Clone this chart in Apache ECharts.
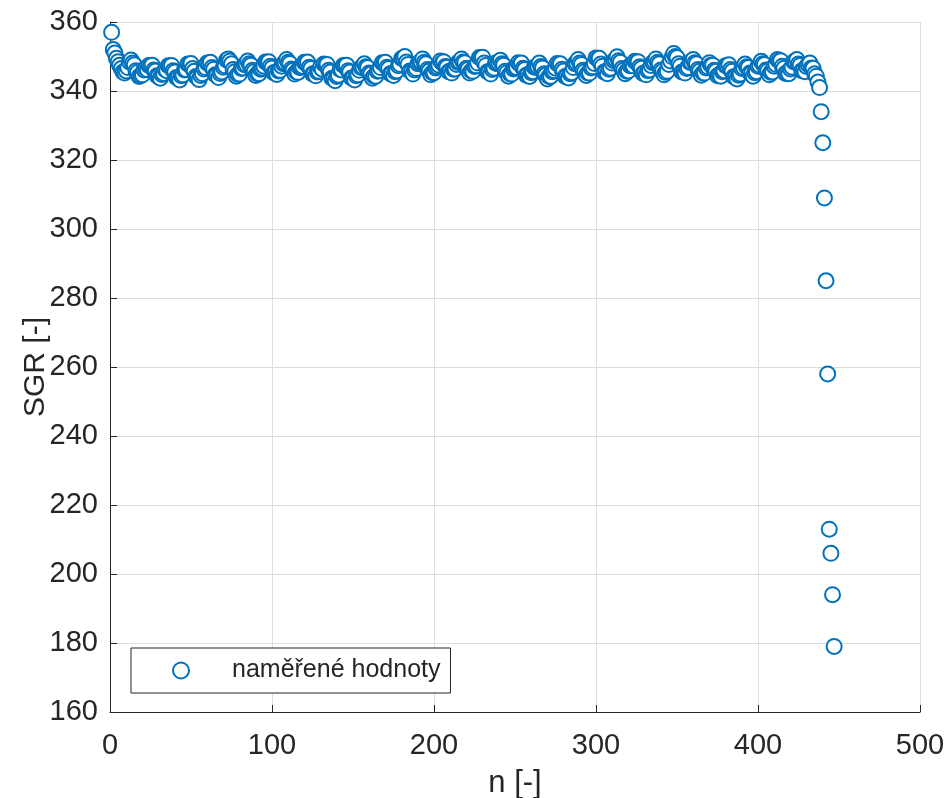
<!DOCTYPE html>
<html>
<head>
<meta charset="utf-8">
<script src="https://cdn.jsdelivr.net/npm/echarts@6/dist/echarts.min.js"></script>
<style>html,body{margin:0;padding:0;background:#fff}#c{width:949px;height:798px}</style>
</head>
<body>
<div id="c"></div>
<script>
// Measured SGR values, n = 1..447
const sgrStart = [357, 352, 351, 349.5, 348.5, 347.5, 346.5, 345.5, 345.2, 345.8];
const sgrPlateau = [
 346.8, 348.4, 349.0, 348.1, 347.6, 345.9, 345.4, 344.2, 344.5, 344.7, 346.1, 346.5,
 346.2, 347.4, 347.3, 347.5, 346.1, 345.8, 344.4, 344.3, 343.7, 344.8, 345.1, 346.2,
 345.9, 347.3, 347.2, 347.4, 345.9, 345.5, 343.9, 343.8, 343.2, 344.4, 344.7, 346.1,
 346.2, 347.8, 347.7, 348.0, 346.5, 345.7, 344.2, 344.0, 343.3, 344.5, 345.0, 346.4,
 346.8, 348.1, 348.0, 348.3, 346.8, 346.3, 344.7, 344.6, 343.9, 345.1, 345.5, 346.9,
 347.3, 349.0, 349.3, 348.7, 347.9, 346.2, 345.6, 344.3, 344.8, 344.9, 346.5, 346.7,
 347.6, 347.8, 348.7, 347.9, 347.5, 346.0, 345.6, 344.5, 345.0, 345.0, 346.3, 346.6,
 347.2, 348.4, 348.3, 348.5, 347.2, 346.7, 345.3, 345.4, 344.8, 345.8, 346.0, 347.2,
 347.9, 348.2, 349.1, 348.3, 348.0, 346.4, 346.0, 344.9, 345.5, 345.4, 346.8, 346.9,
 347.1, 348.3, 348.1, 348.4, 346.9, 346.5, 344.9, 345.1, 344.4, 345.5, 345.7, 346.9,
 346.3, 347.8, 347.6, 347.7, 346.0, 345.5, 343.7, 343.6, 343.0, 344.2, 344.6, 346.2,
 346.1, 347.4, 347.3, 347.5, 345.9, 345.5, 343.8, 343.8, 343.2, 344.4, 344.7, 346.0,
 346.8, 347.0, 347.9, 347.0, 346.8, 345.2, 344.9, 343.7, 344.3, 344.3, 345.7, 345.9,
 346.8, 348.2, 348.0, 348.3, 346.9, 346.5, 345.0, 345.1, 344.5, 345.6, 345.8, 347.3,
 347.7, 349.4, 349.5, 350.0, 348.4, 347.7, 345.8, 345.6, 344.9, 346.1, 346.5, 347.9,
 348.3, 348.5, 349.3, 348.3, 347.9, 346.2, 345.8, 344.7, 345.3, 345.3, 346.7, 347.0,
 347.5, 348.7, 348.2, 348.5, 347.1, 346.9, 345.6, 345.8, 345.2, 346.3, 346.4, 347.7,
 348.3, 348.4, 349.3, 348.4, 348.2, 346.6, 346.3, 345.2, 345.8, 345.7, 347.1, 347.3,
 348.1, 349.7, 349.5, 349.8, 348.1, 347.4, 345.6, 345.5, 344.9, 346.2, 346.6, 348.1,
 347.9, 348.1, 348.9, 347.9, 347.5, 345.7, 345.3, 344.3, 344.9, 344.9, 346.4, 346.7,
 346.8, 348.2, 347.8, 348.1, 346.6, 346.2, 344.6, 344.8, 344.2, 345.3, 345.6, 346.9,
 346.9, 347.2, 348.1, 347.1, 346.7, 345.0, 344.6, 343.5, 344.2, 344.2, 345.6, 345.9,
 346.6, 348.0, 347.7, 347.9, 346.3, 345.8, 344.2, 344.3, 343.8, 345.0, 345.3, 346.8,
 347.9, 348.2, 349.1, 348.1, 347.7, 346.0, 345.6, 344.5, 345.2, 345.2, 346.7, 347.0,
 348.0, 349.6, 349.3, 349.5, 347.8, 347.2, 345.5, 345.6, 345.0, 346.3, 346.6, 348.1,
 348.8, 349.1, 349.9, 348.8, 348.3, 346.5, 346.0, 345.0, 345.7, 345.8, 347.3, 347.5,
 347.3, 348.6, 348.3, 348.5, 347.0, 346.6, 345.1, 345.3, 344.7, 345.9, 346.1, 347.4,
 348.2, 348.4, 349.3, 348.3, 347.9, 346.1, 345.7, 344.7, 345.4, 345.7, 347.7, 348.7,
 349.9, 350.9, 350.0, 349.7, 347.9, 347.2, 345.5, 345.6, 345.2, 346.5, 346.8, 348.3,
 348.3, 349.1, 348.2, 347.9, 346.2, 345.8, 344.6, 345.2, 345.2, 346.7, 347.0, 348.2,
 347.5, 347.5, 346.0, 345.7, 344.4, 344.7, 344.3, 345.6, 345.9, 347.3, 347.2, 347.6,
 346.2, 345.7, 344.1, 344.1, 343.5, 344.6, 344.9, 346.5, 346.8, 347.8, 347.0, 346.8,
 345.2, 345.1, 344.3, 345.3, 345.6, 347.2, 347.5, 348.6, 347.9, 347.7, 346.1, 345.8,
 344.7, 345.4, 345.5, 347.2, 347.7, 349.1, 348.7, 348.8, 347.2, 346.6, 345.1, 345.3,
 345.0, 346.4, 346.9, 348.5, 348.5, 349.1, 347.8, 347.4, 345.9, 346.0, 345.6, 347.1
];
const sgrEnd = [347.7, 348.1, 346.7, 346.6, 345.0, 344.3, 342.6, 341, 334, 325, 309, 285, 258, 213, 206, 194, 179];
const sgr = sgrStart.concat(sgrPlateau, sgrEnd);
const points = sgr.map((v, i) => [i + 1, v]);

const xTicks = [0, 100, 200, 300, 400, 500];
const yTicks = [160, 180, 200, 220, 240, 260, 280, 300, 320, 340, 360];
const seriesName = 'naměřené hodnoty';

const chart = echarts.init(document.getElementById('c'), null, {renderer: 'canvas'});
const FONT = 'Liberation Sans, Arial, Helvetica, sans-serif';
const TXT = '#262626';
const BLUE = '#0072BD';
chart.setOption({
  animation: false,
  backgroundColor: '#fff',
  grid: {left: 110, right: 29, top: 22, bottom: 86, containLabel: false, outerBoundsMode: 'none'},
  xAxis: {
    type: 'value', min: xTicks[0], max: xTicks[xTicks.length - 1], interval: 100,
    name: 'n [-]', nameLocation: 'middle', nameGap: 56, nameMoveOverlap: false,
    nameTextStyle: {fontFamily: FONT, fontSize: 31, color: TXT},
    axisLine: {show: true, onZero: false, lineStyle: {color: TXT, width: 1}},
    axisTick: {show: true, inside: true, length: 7, lineStyle: {color: TXT}},
    axisLabel: {fontFamily: FONT, fontSize: 29, color: TXT, margin: 19},
    splitLine: {show: true, lineStyle: {color: '#dedede', width: 1}}
  },
  yAxis: {
    type: 'value', min: yTicks[0], max: yTicks[yTicks.length - 1], interval: 20,
    name: 'SGR [-]', nameLocation: 'middle', nameGap: 59, nameRotate: 90, nameMoveOverlap: false,
    nameTextStyle: {fontFamily: FONT, fontSize: 30, color: TXT},
    axisLine: {show: true, onZero: false, lineStyle: {color: TXT, width: 1}},
    axisTick: {show: true, inside: true, length: 7, lineStyle: {color: TXT}},
    axisLabel: {fontFamily: FONT, fontSize: 29, color: TXT, margin: 12, padding: [4, 0, 0, 0]},
    splitLine: {show: true, lineStyle: {color: '#dedede', width: 1}}
  },
  legend: {
    show: true, left: 131, top: 648, orient: 'vertical',
    padding: [10, 10, 10, 41], itemWidth: 20, itemHeight: 16, itemGap: 0,
    backgroundColor: '#fff', borderColor: TXT, borderWidth: 1, borderRadius: 0,
    textStyle: {fontFamily: FONT, fontSize: 25, lineHeight: 18, color: TXT, padding: [0, 0, 0, 36]},
    data: [{name: seriesName, icon: 'emptyCircle'}],
    itemStyle: {color: BLUE, borderWidth: 1.2}
  },
  series: [{
    name: seriesName, type: 'scatter', data: points,
    symbol: 'emptyCircle', symbolSize: 15,
    itemStyle: {color: BLUE, borderWidth: 1.2, opacity: 1},
    emphasis: {disabled: true}
  }]
});
</script>
</body>
</html>
